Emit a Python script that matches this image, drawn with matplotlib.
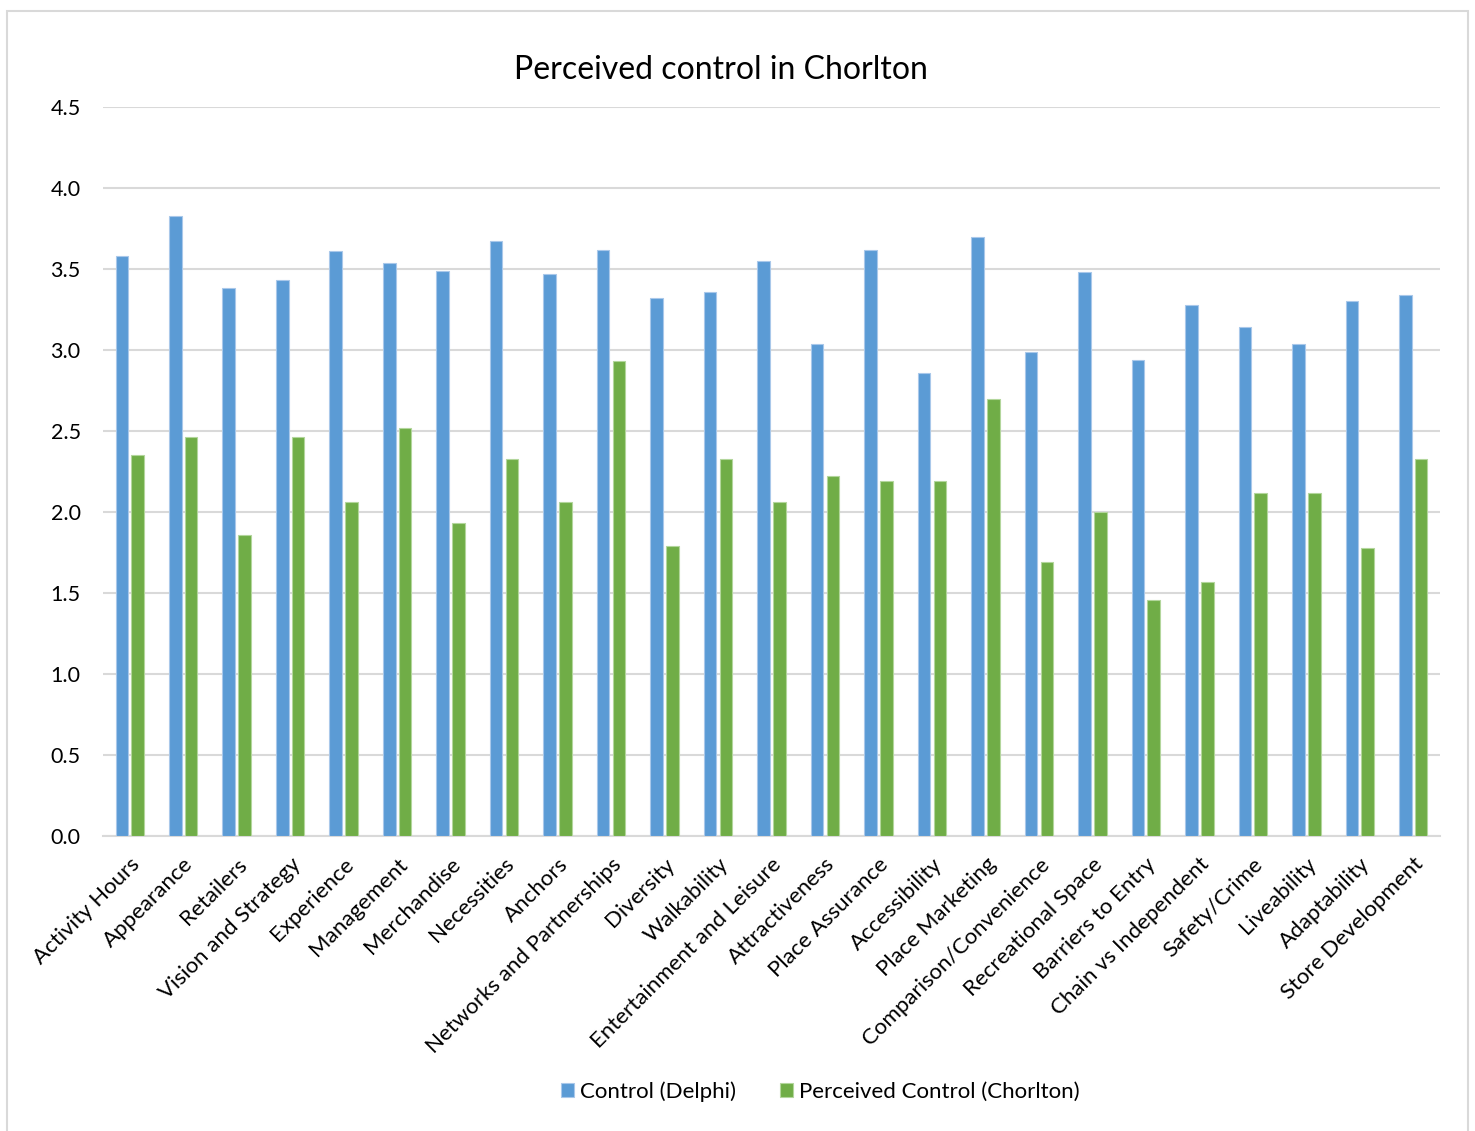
import numpy as np
import matplotlib.pyplot as plt
from matplotlib.patches import Rectangle

plt.rcParams['font.family'] = ['Lato', 'DejaVu Sans']

categories = ['Activity Hours', 'Appearance', 'Retailers', 'Vision and Strategy',
              'Experience', 'Management', 'Merchandise', 'Necessities', 'Anchors',
              'Networks and Partnerships', 'Diversity', 'Walkability',
              'Entertainment and Leisure', 'Attractiveness', 'Place Assurance',
              'Accessibility', 'Place Marketing', 'Comparison/Convenience',
              'Recreational Space', 'Barriers to Entry', 'Chain vs Independent',
              'Safety/Crime', 'Liveability', 'Adaptability', 'Store Development']

delphi = [3.58, 3.83, 3.38, 3.43, 3.61, 3.54, 3.49, 3.67, 3.47, 3.62, 3.32, 3.36,
          3.55, 3.04, 3.62, 2.86, 3.70, 2.99, 3.48, 2.94, 3.28, 3.14, 3.04, 3.30, 3.34]

chorlton = [2.35, 2.46, 1.86, 2.46, 2.06, 2.52, 1.93, 2.33, 2.06, 2.93, 1.79, 2.33,
            2.06, 2.22, 2.19, 2.19, 2.70, 1.69, 2.00, 1.46, 1.57, 2.12, 2.12, 1.78, 2.33]

blue = '#5b9bd5'
green = '#70ad47'

fig = plt.figure(figsize=(14.75, 11.31), dpi=100)
ax = fig.add_axes([0.0698, 0.2608, 0.9065, 0.6446])

x = np.arange(len(categories))
w = 0.235
ax.bar(x - w / 2 - 0.03, delphi, w, color=blue, edgecolor='#a9c8ea', linewidth=0.8,
       label='Control (Delphi)', zorder=3)
ax.bar(x + w / 2 + 0.03, chorlton, w, color=green, edgecolor='#b3d69c', linewidth=0.8,
       label='Perceived Control (Chorlton)', zorder=3)

ax.set_xlim(-0.5, len(categories) - 0.5)
ax.set_ylim(0, 4.5)
ax.set_yticks(np.arange(0, 4.51, 0.5))
ax.set_yticklabels([f'{v:.1f}' for v in np.arange(0, 4.51, 0.5)], fontsize=15.5)
ax.yaxis.grid(True, color='#d9d9d9', linewidth=1.5, zorder=0)
ax.set_xticks(x)
ax.set_xticklabels(categories, rotation=45, ha='right', rotation_mode='anchor',
                   fontsize=16)
ax.tick_params(axis='both', length=0, colors='#000000')
ax.tick_params(axis='x', pad=13)
ax.tick_params(axis='y', pad=16)
for s in ['top', 'right', 'left']:
    ax.spines[s].set_visible(False)
ax.spines['bottom'].set_color('#d9d9d9')
ax.spines['bottom'].set_linewidth(1.5)

fig.text(0.489, 0.938, 'Perceived control in Chorlton', ha='center', va='center',
         fontsize=23)

fig.legend(loc='center', bbox_to_anchor=(0.556, 0.035), ncol=2, frameon=False,
           fontsize=16, handlelength=0.6, handleheight=0.6, columnspacing=2.0,
           handletextpad=0.25)

fig.patches.append(Rectangle((0.005, -0.01), 0.99, 1.0, transform=fig.transFigure,
                             fill=False, edgecolor='#d9d9d9', linewidth=1.5))

fig.savefig('out.png', dpi=100)
